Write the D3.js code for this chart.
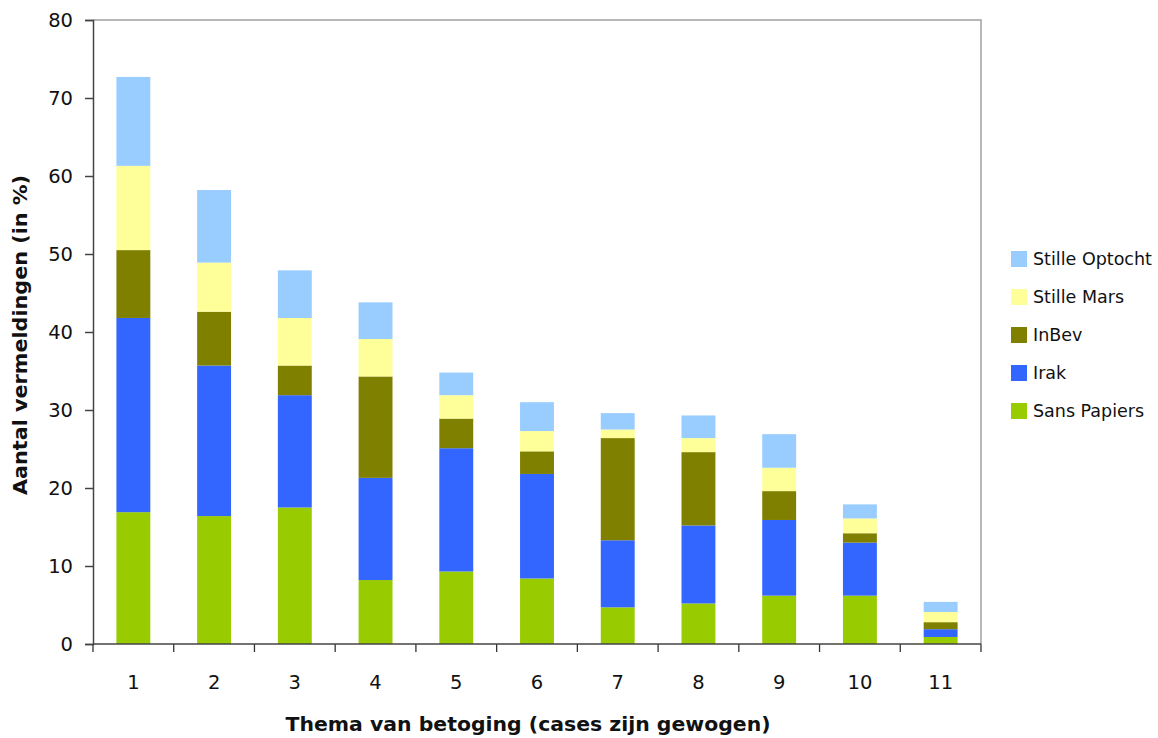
<!DOCTYPE html>
<html><head><meta charset="utf-8">
<script src="https://cdn.jsdelivr.net/npm/d3@7"></script>
<style>body{margin:0;background:#fff}svg{display:block}text{font-family:"DejaVu Sans",sans-serif;fill:#111}</style>
</head><body>
<svg id="c" width="1158" height="738"></svg>
<script>
const categories = ["1","2","3","4","5","6","7","8","9","10","11"];
const seriesNames = ["Sans Papiers","Irak","InBev","Stille Mars","Stille Optocht"];
const sansPapiers   = [16.9,16.4,17.5, 8.2, 9.3, 8.4, 4.7, 5.2, 6.2, 6.2,0.9];
const irak          = [24.9,19.3,14.4,13.1,15.8,13.4, 8.6,10.0, 9.7, 6.8,1.0];
const inBev         = [ 8.7, 6.9, 3.8,13.0, 3.8, 2.9,13.1, 9.4, 3.7, 1.2,0.9];
const stilleMars    = [10.8, 6.3, 6.1, 4.8, 3.0, 2.6, 1.1, 1.8, 3.0, 1.9,1.3];
const stilleOptocht = [11.4, 9.3, 6.1, 4.7, 2.9, 3.7, 2.1, 2.9, 4.3, 1.8,1.3];
const yTicks = [0,10,20,30,40,50,60,70,80];
const colors = ["#99cc00","#3366ff","#808000","#ffff99","#99ccff"];
const yTitle = "Aantal vermeldingen (in %)";
const xTitle = "Thema van betoging (cases zijn gewogen)";

const values = [sansPapiers, irak, inBev, stilleMars, stilleOptocht];
const rows = categories.map((c,i)=>{const r={cat:c}; seriesNames.forEach((s,k)=>r[s]=values[k][i]); return r;});
const stacked = d3.stack().keys(seriesNames)(rows);

const svg = d3.select("#c");
const L=93, R=981, T=20, B=644;
const x = d3.scaleBand().domain(categories).range([L,R]).paddingInner(0.58).paddingOuter(0.29);
const y = d3.scaleLinear().domain([0,80]).range([B,T]);

// frame top/right
svg.append("path").attr("d",`M${L},${T}H${R}V${B}`).attr("fill","none").attr("stroke","#a0a0a0").attr("stroke-width",1.5);

// bars
svg.append("g").selectAll("g").data(stacked).join("g").attr("fill",(d,i)=>colors[i])
  .selectAll("rect").data(d=>d).join("rect")
  .attr("x",d=>x(d.data.cat)).attr("width",x.bandwidth())
  .attr("y",d=>y(d[1])).attr("height",d=>y(d[0])-y(d[1]));

// y axis
const ya = svg.append("g").attr("transform",`translate(${L},0)`)
  .call(d3.axisLeft(y).tickValues(yTicks).tickSize(8).tickPadding(12).tickFormat(d3.format("d")));
ya.select(".domain").attr("stroke","#444").attr("stroke-width",1.5);
ya.selectAll(".tick line").attr("stroke","#444").attr("stroke-width",1.5);
ya.selectAll("text").attr("font-size",19.5).attr("fill","#222").style("font-family","'DejaVu Sans',sans-serif");

// x axis with ticks at boundaries
const xa = svg.append("g").attr("transform",`translate(0,${B})`)
  .call(d3.axisBottom(x).tickSize(0).tickPadding(31));
xa.select(".domain").remove();
xa.selectAll("text").attr("font-size",19.5).attr("fill","#222").style("font-family","'DejaVu Sans',sans-serif");
const bounds = d3.range(categories.length+1).map(i=>L + i*(R-L)/categories.length);
svg.append("g").selectAll("line").data(bounds).join("line")
  .attr("x1",d=>d).attr("x2",d=>d).attr("y1",B).attr("y2",B+8).attr("stroke","#333").attr("stroke-width",1.3);
svg.append("line").attr("x1",L).attr("x2",R).attr("y1",B).attr("y2",B).attr("stroke","#444").attr("stroke-width",1.5);

// titles
svg.append("text").attr("x",528).attr("y",731).attr("text-anchor","middle")
  .attr("font-size",20).attr("font-weight","bold").attr("textLength",485).attr("lengthAdjust","spacingAndGlyphs").text(xTitle);
svg.append("text").attr("transform","translate(27,335) rotate(-90)").attr("text-anchor","middle")
  .attr("font-size",20).attr("font-weight","bold").attr("textLength",320).attr("lengthAdjust","spacingAndGlyphs").text(yTitle);

// legend (top: Stille Optocht)
const leg = svg.append("g").selectAll("g").data(seriesNames.slice().reverse()).join("g")
  .attr("transform",(d,i)=>`translate(1011,${259+i*38})`);
leg.append("rect").attr("x",0).attr("y",-8).attr("width",16).attr("height",16)
  .attr("fill",d=>colors[seriesNames.indexOf(d)]);
leg.append("text").attr("x",22).attr("y",0).attr("dy","0.35em").attr("font-size",17.5).attr("fill","#111").text(d=>d);
</script>
</body></html>
